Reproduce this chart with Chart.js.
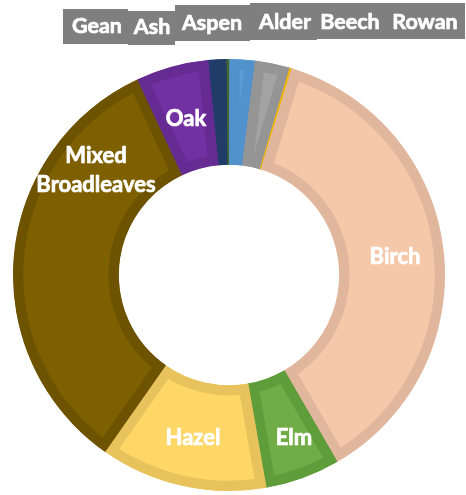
<!DOCTYPE html>
<html>
<head>
<meta charset="utf-8">
<script src="https://cdn.jsdelivr.net/npm/chart.js@4"></script>
<style>
  html, body { margin: 0; padding: 0; background: #fff; }
  canvas { display: block; }
</style>
</head>
<body>
<canvas id="chart-woodland" width="466" height="495"></canvas>
<script>
const categories = ['Gean', 'Ash', 'Aspen', 'Alder', 'Beech', 'Rowan', 'Birch', 'Elm', 'Hazel', 'Mixed Broadleaves', 'Oak'];
const shares     = [1.4, 0.2, 1.9, 2.6, 0.15, 0.05, 36.9, 5.6, 12.5, 33.3, 5.4];

const fills   = ['#223f6e', '#43682b', '#5c9bd4', '#a3a3a3', '#ffc000', '#d9b29a', '#f5c8aa', '#70ad47', '#fed767', '#7f6000', '#7231a2'];
const borders = ['#213c69', '#43682b', '#5191cc', '#959595', '#f2b800', '#d9b29a', '#e0b69d', '#5f9c3a', '#e8c35d', '#6d5200', '#662b93'];

// labels pulled out above the ring (grey boxes)
const topLabels = [
  { text: 'Gean',  box: [63, 9, 65, 35],  x: 97,  y: 33 },
  { text: 'Ash',   box: [128, 11, 47, 34], x: 152, y: 34 },
  { text: 'Aspen', box: [175, 5, 75, 36],  x: 212, y: 30 },
  { text: 'Alder', box: [250, 3, 67, 37],  x: 285, y: 29 },
  { text: 'Beech', box: [317, 3, 68, 36],  x: 350, y: 29 },
  { text: 'Rowan', box: [385, 3, 80, 36],  x: 425, y: 29 },
];

// labels sitting inside the slices
const sliceLabels = [
  { lines: ['Birch'], x: 395, y: [264] },
  { lines: ['Elm'],   x: 294, y: [445] },
  { lines: ['Hazel'], x: 193, y: [445] },
  { lines: ['Mixed', 'Broadleaves'], x: 96, y: [163, 192] },
  { lines: ['Oak'],   x: 186, y: [126] },
];

function boldText(ctx, t, x, y) {
  ctx.fillText(t, x, y);
  ctx.strokeText(t, x, y);
}

const labelPlugin = {
  id: 'woodLabels',
  afterDraw(chart) {
    const ctx = chart.ctx;
    ctx.save();
    ctx.textAlign = 'center';
    ctx.textBaseline = 'alphabetic';
    ctx.lineWidth = 0.7;
    ctx.strokeStyle = '#ffffff';
    ctx.lineJoin = 'round';

    ctx.font = 'bold 21.5px Lato';
    topLabels.forEach(l => {
      ctx.fillStyle = '#7f7f7f';
      ctx.fillRect(...l.box);
      ctx.fillStyle = '#ffffff';
      boldText(ctx, l.text, l.x, l.y);
    });

    ctx.font = 'bold 22px Lato';
    ctx.fillStyle = '#ffffff';
    sliceLabels.forEach(l => {
      l.lines.forEach((t, i) => boldText(ctx, t, l.x, l.y[i]));
    });
    ctx.restore();
  },
};

const ctx = document.getElementById('chart-woodland').getContext('2d');
new Chart(ctx, {
  type: 'doughnut',
  data: {
    labels: categories,
    datasets: [{
      data: shares,
      backgroundColor: fills,
      borderColor: borders,
      borderWidth: 10,
      borderAlign: 'inner',
      borderJoinStyle: 'miter',
    }],
  },
  options: {
    responsive: false,
    animation: false,
    rotation: -5.6,
    radius: 216,
    cutout: '51%',
    layout: { padding: { left: 10, right: 18, top: 60, bottom: 5 } },
    plugins: {
      legend: { display: false },
      tooltip: { enabled: false },
    },
  },
  plugins: [labelPlugin],
});
</script>
</body>
</html>
